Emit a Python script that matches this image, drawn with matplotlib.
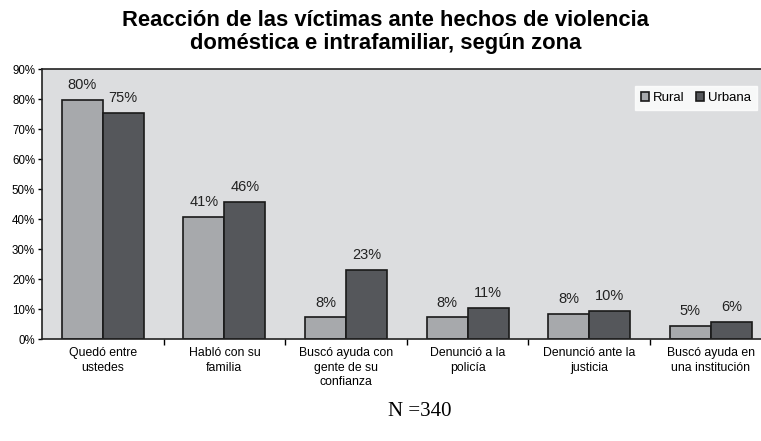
import matplotlib.pyplot as plt
import numpy as np

# data
categories = ["Quedó entre\nustedes", "Habló con su\nfamilia", "Buscó ayuda con\ngente de su\nconfianza",
              "Denunció a la\npolicía", "Denunció ante la\njusticia", "Buscó ayuda en\nuna institución"]
rural = [79.7, 40.7, 7.2, 7.2, 8.3, 4.4]
urbana = [75.3, 45.7, 23.0, 10.5, 9.4, 5.7]
rural_labels = ["80%", "41%", "8%", "8%", "8%", "5%"]
urbana_labels = ["75%", "46%", "23%", "11%", "10%", "6%"]
yticks = [0, 10, 20, 30, 40, 50, 60, 70, 80, 90]

plt.rcParams['font.family'] = ['Liberation Sans', 'DejaVu Sans']

fig = plt.figure(figsize=(7.61, 4.41), dpi=100)
ax = fig.add_axes([42 / 761, 1 - 339 / 441, 729.6 / 761, 270 / 441])
ax.set_facecolor("#dcdddf")

x = np.arange(len(categories))
w = 0.337
b1 = ax.bar(x - w / 2, rural, w, color="#a7a9ac", edgecolor="#1a1a1a", linewidth=1.2, label="Rural")
b2 = ax.bar(x + w / 2, urbana, w, color="#55575b", edgecolor="#1a1a1a", linewidth=1.2, label="Urbana")

for bars, labs in ((b1, rural_labels), (b2, urbana_labels)):
    for r, t in zip(bars, labs):
        ax.text(r.get_x() + r.get_width() / 2, r.get_height() + 2.6, t,
                ha="center", va="bottom", fontsize=10.5, color="#222222")

ax.set_xlim(-0.5, len(categories) - 0.5)
ax.set_ylim(0, 90)
ax.set_yticks(yticks)
ax.set_yticklabels([f"{v}%" for v in yticks], fontsize=8.3)
ax.tick_params(axis="y", direction="out", length=3, width=1, pad=2)

ax.set_xticks(x)
ax.set_xticklabels(categories, fontsize=8.8, linespacing=1.25, va="top")
ax.set_xticks(np.arange(len(categories) - 1) + 0.5, minor=True)
ax.tick_params(axis="x", which="major", length=0, pad=6)
ax.tick_params(axis="x", which="minor", direction="out", length=4, width=1)

for s in ax.spines.values():
    s.set_color("#222222")
    s.set_linewidth(1.2)

leg = ax.legend(loc="upper right", bbox_to_anchor=(0.98, 0.937), ncol=2, fontsize=9.5,
                frameon=True, fancybox=False, handlelength=0.65, handleheight=0.65,
                handletextpad=0.3, columnspacing=0.8, borderpad=0.45, borderaxespad=0)
leg.get_frame().set_facecolor("white")
leg.get_frame().set_edgecolor("white")

fig.text(0.507, 1 - 10 / 441, "Reacción de las víctimas ante hechos de violencia\ndoméstica e intrafamiliar, según zona",
         ha="center", va="top", fontsize=15.8, fontweight="bold", linespacing=1.13)
fig.text(0.552, 1 - 411 / 441, "N =340", ha="center", va="center", fontsize=15,
         family=['Liberation Serif', 'DejaVu Serif'])

fig.savefig("out.png", dpi=100)
